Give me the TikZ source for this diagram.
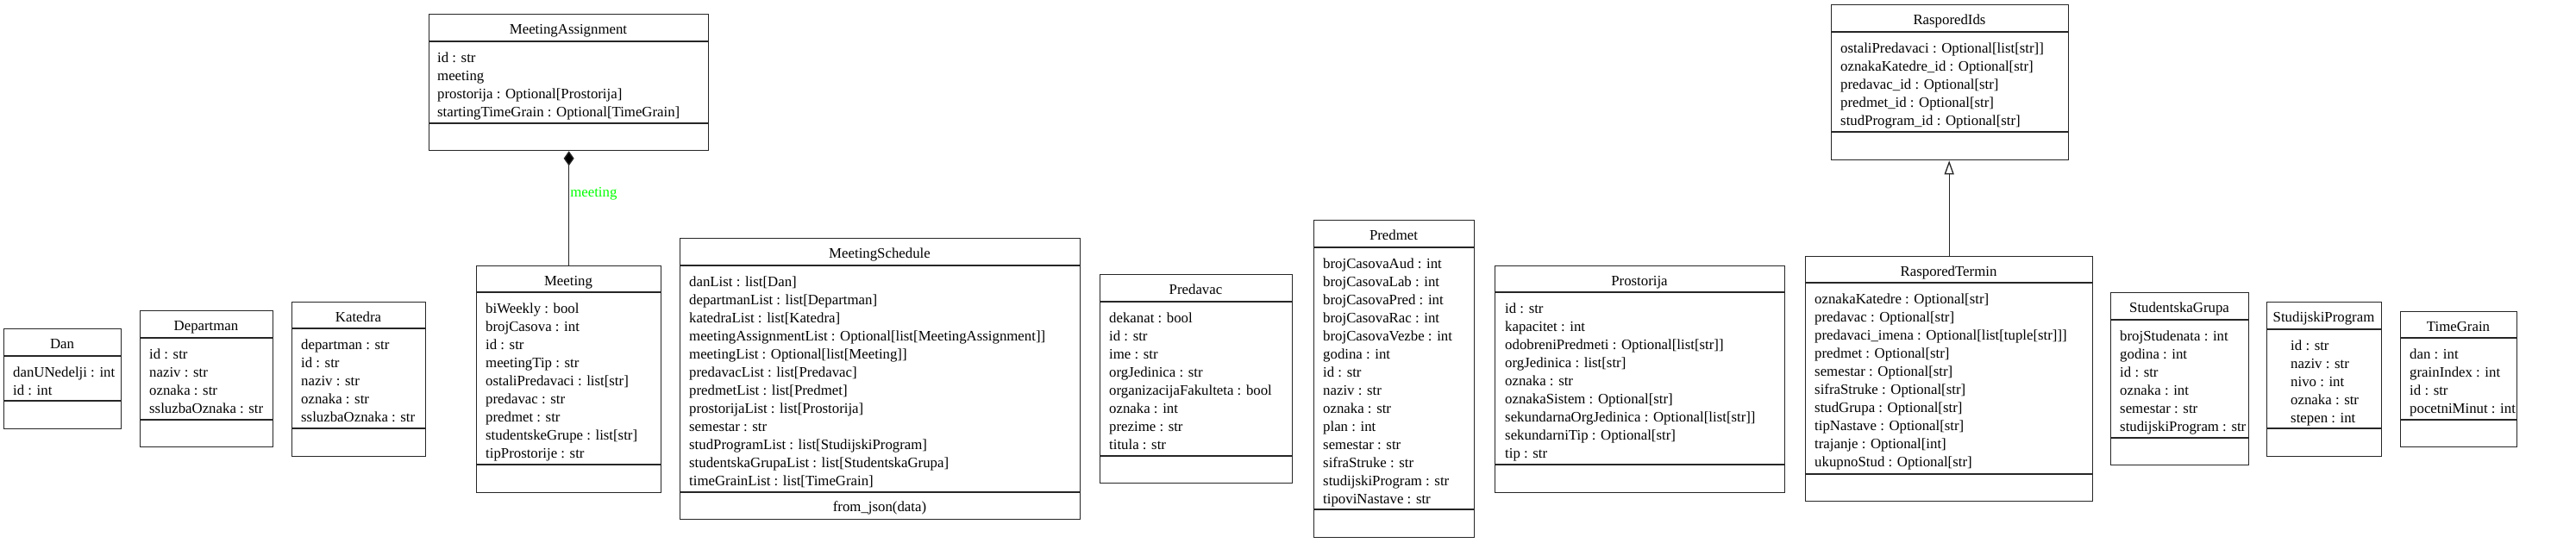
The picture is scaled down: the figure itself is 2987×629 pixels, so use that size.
\documentclass[tikz,border=0pt]{standalone}
\usepackage{fontspec}
\setmainfont{Liberation Serif}
\usetikzlibrary{arrows.meta}
\tikzset{
  clsbox/.style={draw=black!85, line width=1.3pt, fill=white, inner sep=0pt, rectangle},
  sep/.style={draw=black!85, line width=1.3pt},
  clstitle/.style={anchor=base, inner sep=0pt, font=\fontsize{16.8}{21}\selectfont},
  clsattr/.style={anchor=base west, inner sep=0pt, font=\fontsize{16.8}{21}\selectfont},
  conn/.style={draw=black!85, line width=1.3pt},
  lbl/.style={anchor=base west, inner sep=0pt, text=green, font=\fontsize{16.8}{21}\selectfont}
}
\newcommand\uclass[8]{%
  \node[clsbox, minimum width={(#3-#2)*1pt}, minimum height={(#7-#4)*1pt}, anchor=north west] (#1) at (#2,#4) {};
  \draw[sep] (#2,#5) -- (#3,#5);
  \draw[sep] (#2,#6) -- (#3,#6);
  \node[clstitle] (#1-title) at ({(#2+#3)/2},{#4+23.5}) {#8};
}
\newcommand\uattrs[4]{%
  \foreach \t [count=\i] in {#4} {
    \node[clsattr] (#1-a\i) at (#2,{#3+(\i-1)*21}) {\t};
  }
}
\begin{document}
\begin{tikzpicture}[x=1pt,y=-1pt]
\useasboundingbox (0,0) rectangle (2987,629);

% Dan
\uclass{dan}{4}{140}{381}{413}{465}{497}{Dan}
\uattrs{dan}{15}{437}{danUNedelji : int,id : int}
% Departman
\uclass{dep}{162}{316}{360}{392}{487}{518}{Departman}
\uattrs{dep}{173}{416}{id : str,naziv : str,oznaka : str,ssluzbaOznaka : str}
% Katedra
\uclass{kat}{338}{493}{350}{381}{497}{529}{Katedra}
\uattrs{kat}{349}{405}{departman : str,id : str,naziv : str,oznaka : str,ssluzbaOznaka : str}
% MeetingAssignment
\uclass{ma}{497}{821}{16}{48}{143}{174}{MeetingAssignment}
\uattrs{ma}{507}{72}{id : str,meeting,prostorija : Optional[Prostorija],startingTimeGrain : Optional[TimeGrain]}
% Meeting
\uclass{m}{552}{766}{308}{339}{539}{571}{Meeting}
\uattrs{m}{563}{363}{biWeekly : bool,brojCasova : int,id : str,meetingTip : str,ostaliPredavaci : list[str],predavac : str,predmet : str,studentskeGrupe : list[str],tipProstorije : str}
% MeetingSchedule
\uclass{ms}{788}{1252}{276}{308}{571}{602}{MeetingSchedule}
\uattrs{ms}{799}{332}{danList : list[Dan],departmanList : list[Departman],katedraList : list[Katedra],meetingAssignmentList : Optional[list[MeetingAssignment]],meetingList : Optional[list[Meeting]],predavacList : list[Predavac],predmetList : list[Predmet],prostorijaList : list[Prostorija],semestar : str,studProgramList : list[StudijskiProgram],studentskaGrupaList : list[StudentskaGrupa],timeGrainList : list[TimeGrain]}
\node[clstitle] (ms-meth) at (1020,593) {from\_json(data)};
% Predavac
\uclass{pv}{1275}{1498}{318}{350}{529}{560}{Predavac}
\uattrs{pv}{1286}{374}{dekanat : bool,id : str,ime : str,orgJedinica : str,organizacijaFakulteta : bool,oznaka : int,prezime : str,titula : str}
% Predmet
\uclass{pm}{1523}{1709}{255}{287}{591}{623}{Predmet}
\uattrs{pm}{1534}{311}{brojCasovaAud : int,brojCasovaLab : int,brojCasovaPred : int,brojCasovaRac : int,brojCasovaVezbe : int,godina : int,id : str,naziv : str,oznaka : str,plan : int,semestar : str,sifraStruke : str,studijskiProgram : str,tipoviNastave : str}
% Prostorija
\uclass{pr}{1733}{2069}{308}{339}{539}{571}{Prostorija}
\uattrs{pr}{1745}{363}{id : str,kapacitet : int,odobreniPredmeti : Optional[list[str]],orgJedinica : list[str],oznaka : str,oznakaSistem : Optional[str],sekundarnaOrgJedinica : Optional[list[str]],sekundarniTip : Optional[str],tip : str}
% RasporedIds
\uclass{ri}{2123}{2398}{5}{37}{153}{185}{RasporedIds}
\uattrs{ri}{2134}{61}{ostaliPredavaci : Optional[list[str]],oznakaKatedre\_id : Optional[str],predavac\_id : Optional[str],predmet\_id : Optional[str],studProgram\_id : Optional[str]}
% RasporedTermin
\uclass{rt}{2093}{2426}{297}{328}{550}{581}{RasporedTermin}
\uattrs{rt}{2104}{352}{oznakaKatedre : Optional[str],predavac : Optional[str],predavaci\_imena : Optional[list[tuple[str]]],predmet : Optional[str],semestar : Optional[str],sifraStruke : Optional[str],studGrupa : Optional[str],tipNastave : Optional[str],trajanje : Optional[int],ukupnoStud : Optional[str]}
% StudentskaGrupa
\uclass{sg}{2447}{2607}{339}{371}{508}{539}{StudentskaGrupa}
\uattrs{sg}{2458}{395}{brojStudenata : int,godina : int,id : str,oznaka : int,semestar : str,studijskiProgram : str}
% StudijskiProgram
\uclass{sp}{2628}{2761}{350}{382}{497}{529}{StudijskiProgram}
\uattrs{sp}{2656}{406}{id : str,naziv : str,nivo : int,oznaka : str,stepen : int}
% TimeGrain
\uclass{tg}{2783}{2918}{361}{392}{487}{518}{TimeGrain}
\uattrs{tg}{2794}{416}{dan : int,grainIndex : int,id : str,pocetniMinut : int}

% connectors
\draw[conn, {Diamond[length=17pt,width=12pt,fill=black]}-] (ma.south) -- node[lbl, pos=0.4, anchor=base west, xshift=1pt] (malbl) {meeting} (m.north);
\draw[conn, -{Triangle[open,length=16pt,width=11pt,fill=white]}] (rt.north) -- (rt.north |- ri.south);
\end{tikzpicture}
\end{document}
